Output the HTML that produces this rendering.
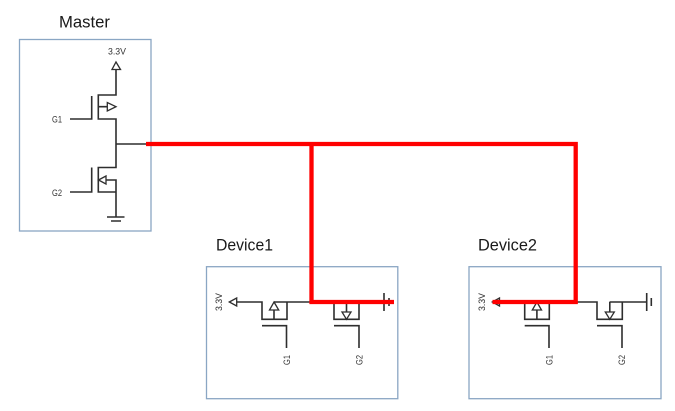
<!DOCTYPE html>
<html><head><meta charset="utf-8"><style>
html,body{margin:0;padding:0;background:#fff}
svg{display:block}
text{font-family:"Liberation Sans",sans-serif}
.b{fill:none;stroke:#8aa6c4;stroke-width:1.3}
.l{fill:none;stroke:#2e2e2e;stroke-width:1.6}
.t{fill:#fff;stroke:#2e2e2e;stroke-width:1.3}
.r{fill:none;stroke:#f00;stroke-width:4.3}
.s{font-size:9px;fill:#333}
.h{font-size:16.5px;fill:#1a1a1a}
</style></head><body>
<svg width="675" height="411" viewBox="0 0 675 411" xmlns="http://www.w3.org/2000/svg">
<rect class="b" x="19.500" y="39.500" width="131.500" height="191.500"/>
<rect class="b" x="206.500" y="266.700" width="191.300" height="132"/>
<rect class="b" x="469" y="266.700" width="192" height="132"/>
<text class="h" x="59" y="27.300" textLength="51" lengthAdjust="spacingAndGlyphs">Master</text>
<text class="h" x="216" y="250.700" textLength="57" lengthAdjust="spacingAndGlyphs">Device1</text>
<text class="h" x="478" y="250.700" textLength="59" lengthAdjust="spacingAndGlyphs">Device2</text>

<!-- Master -->
<text class="s" x="108" y="54.500" textLength="18" lengthAdjust="spacingAndGlyphs">3.3V</text>
<polygon class="t" points="116,62 120.500,69.500 112,69.500"/>
<path class="l" d="M116,69.500V95H98.300V119H116V167.500H98.300V192H116V180H106M116,192V217M107,217H124.500M111,221H121"/>
<path class="l" d="M91.700,96V119H70M91.700,167.500V192H70M116,144H146M98.300,106.700H107.300"/>
<polygon class="t" points="116,106.700 107.300,102.500 107.300,111"/>
<polygon class="t" points="98.500,180 106,176 106,184"/>
<text class="s" x="52" y="122.500" textLength="10" lengthAdjust="spacingAndGlyphs">G1</text>
<text class="s" x="52" y="196" textLength="10" lengthAdjust="spacingAndGlyphs">G2</text>

<!-- Device1 -->
<text class="s" transform="translate(222,311) rotate(-90)" textLength="18" lengthAdjust="spacingAndGlyphs">3.3V</text>
<polygon class="t" points="229.300,302 236.700,298 236.700,306"/>
<path class="l" d="M236.700,302H262V319.300H287V302H274M287,302H311M274,310V319.300"/>
<path class="l" d="M262,325.700H286.500V348M334,325.700H359V348M334,302V319.300H359V302M346.500,302V312"/>
<polygon class="t" points="274,302 278.700,310 269.500,310"/>
<polygon class="t" points="346.500,319.300 342,312 351,312"/>
<path class="l" d="M384,293V311M389,298V306"/>
<text class="s" transform="translate(290,365) rotate(-90)" textLength="10" lengthAdjust="spacingAndGlyphs">G1</text>
<text class="s" transform="translate(362.500,365) rotate(-90)" textLength="10" lengthAdjust="spacingAndGlyphs">G2</text>

<!-- Device2 -->
<text class="s" transform="translate(485,311) rotate(-90)" textLength="18" lengthAdjust="spacingAndGlyphs">3.3V</text>
<polygon class="t" points="492.300,302 499.500,298 499.500,306"/>
<path class="l" d="M499.500,302H524.700V319.300H549.300V302H536.500M575,302H597V319.300H622.300V302H609.500M622.300,302H646.700M536.900,310V319.300M609.800,302V312"/>
<path class="l" d="M524.700,325.700H549V348M597,325.700H622V348M646.700,293V311M651.300,298V306"/>
<polygon class="t" points="536.900,302 541.500,310 532.300,310"/>
<polygon class="t" points="609.800,319.300 605.300,312 614.300,312"/>
<text class="s" transform="translate(552.500,365) rotate(-90)" textLength="10" lengthAdjust="spacingAndGlyphs">G1</text>
<text class="s" transform="translate(625,365) rotate(-90)" textLength="10" lengthAdjust="spacingAndGlyphs">G2</text>

<!-- Red -->
<path class="r" d="M146,144H575.700V302H492.500"/>
<path class="r" d="M311.500,144V302H394"/>
</svg>
</body></html>
